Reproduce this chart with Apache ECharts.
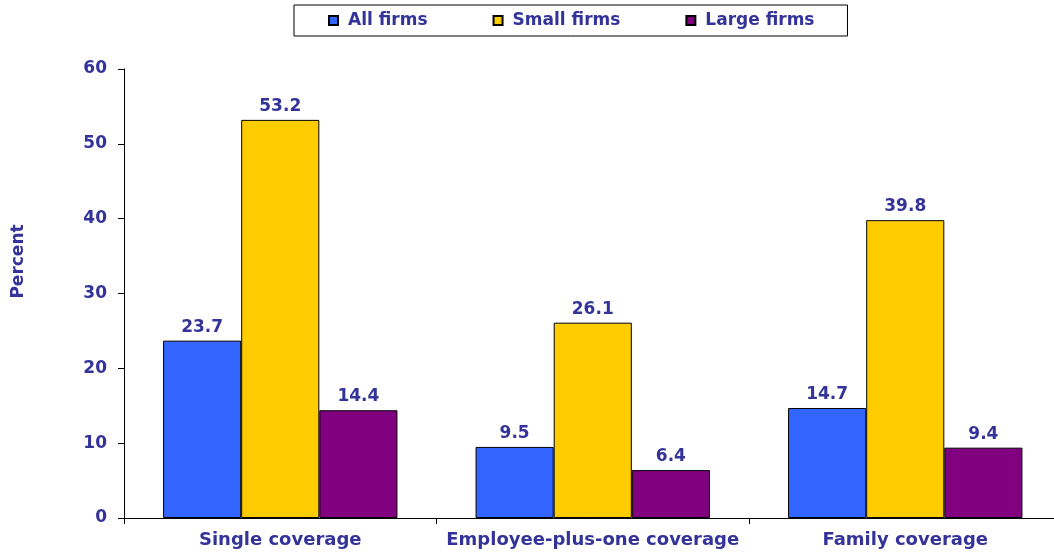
<!DOCTYPE html>
<html>
<head>
<meta charset="utf-8">
<script src="https://cdn.jsdelivr.net/npm/echarts@6/dist/echarts.min.js"></script>
<style>
html,body{margin:0;padding:0;background:#fff;}
#chart{width:1054px;height:552px;}
</style>
</head>
<body>
<div id="chart"></div>
<script>
const categories = ['Single coverage', 'Employee-plus-one coverage', 'Family coverage'];
const allFirms = [23.7, 9.5, 14.7];
const smallFirms = [53.2, 26.1, 39.8];
const largeFirms = [14.4, 6.4, 9.4];
const seriesNames = ['All firms', 'Small firms', 'Large firms'];
const yTicks = { min: 0, max: 60, interval: 10 };

const textColor = '#333399';
const font = 'DejaVu Sans';

function mkSeries(name, data, color) {
  return {
    name: name,
    type: 'bar',
    data: data,
    barGap: '0%',
    barCategoryGap: '25%',
    itemStyle: { color: color, borderColor: '#000', borderWidth: 1 },
    label: {
      show: true, position: 'top', distance: 5,
      color: textColor, fontFamily: font, fontWeight: 'bold', fontSize: 17,
      formatter: p => p.value.toFixed(1)
    }
  };
}

const chart = echarts.init(document.getElementById('chart'), null, { renderer: 'canvas' });
chart.setOption({
  animation: false,
  backgroundColor: '#fff',
  legend: {
    left: 294, top: 5,
    padding: [7, 33, 7, 34],
    itemWidth: 9, itemHeight: 9, itemGap: 65,
    icon: 'rect',
    borderColor: '#000', borderWidth: 1,
    textStyle: { color: textColor, fontFamily: font, fontWeight: 'bold', fontSize: 17, padding: [0,0,0,5] },
    data: seriesNames
  },
  grid: { left: 124, top: 69, right: -7.5, bottom: 34, containLabel: false, outerBoundsMode: 'none' },
  xAxis: {
    type: 'category', data: categories,
    axisLine: { lineStyle: { color: '#000', width: 1 } },
    axisTick: { show: true, length: 6, lineStyle: { color: '#000' } },
    axisLabel: { interval: 0, color: textColor, fontFamily: font, fontWeight: 'bold', fontSize: 18, margin: 13 }
  },
  yAxis: {
    type: 'value', min: yTicks.min, max: yTicks.max, interval: yTicks.interval,
    name: 'Percent', nameLocation: 'middle', nameRotate: 90, nameGap: 97,
    nameTextStyle: { color: textColor, fontFamily: font, fontWeight: 'bold', fontSize: 17, padding: [0, 0, 0, 64] },
    splitLine: { show: false },
    axisLine: { show: true, lineStyle: { color: '#000', width: 1 } },
    axisTick: { show: true, length: 6, lineStyle: { color: '#000' } },
    axisLabel: { color: textColor, fontFamily: font, fontWeight: 'bold', fontSize: 17, margin: 17 }
  },
  series: [
    mkSeries(seriesNames[0], allFirms, '#3366FF'),
    mkSeries(seriesNames[1], smallFirms, '#FFCC00'),
    mkSeries(seriesNames[2], largeFirms, '#800080')
  ]
});
</script>
</body>
</html>
